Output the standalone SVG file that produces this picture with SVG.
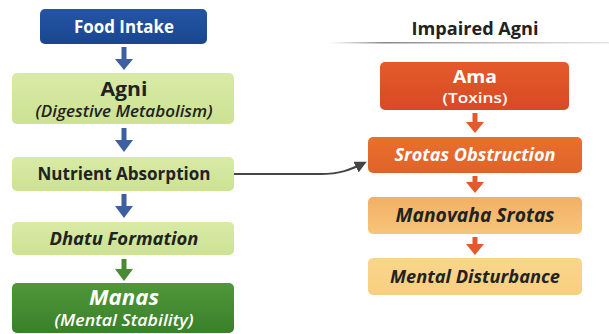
<svg xmlns="http://www.w3.org/2000/svg" width="609" height="334" viewBox="0 0 609 334">
<defs>
<linearGradient id="gBlue" x1="0" y1="0" x2="0" y2="1"><stop offset="0" stop-color="#2455a4"/><stop offset="1" stop-color="#1a4690"/></linearGradient>
<linearGradient id="gLight" x1="0" y1="0" x2="0" y2="1"><stop offset="0" stop-color="#d9eaa6"/><stop offset="1" stop-color="#cde293"/></linearGradient>
<linearGradient id="gDark" x1="0" y1="0" x2="0" y2="1"><stop offset="0" stop-color="#4f9838"/><stop offset="1" stop-color="#3a7f2b"/></linearGradient>
<linearGradient id="gAma" x1="0" y1="0" x2="0" y2="1"><stop offset="0" stop-color="#e35a2b"/><stop offset="1" stop-color="#d84a24"/></linearGradient>
<linearGradient id="gSrot" x1="0" y1="0" x2="0" y2="1"><stop offset="0" stop-color="#e9702c"/><stop offset="1" stop-color="#e0622a"/></linearGradient>
<linearGradient id="gMano" x1="0" y1="0" x2="0" y2="1"><stop offset="0" stop-color="#f2b063"/><stop offset="1" stop-color="#f7c57a"/></linearGradient>
<linearGradient id="gMent" x1="0" y1="0" x2="0" y2="1"><stop offset="0" stop-color="#f9d58b"/><stop offset="1" stop-color="#f8cf80"/></linearGradient>
<linearGradient id="gLine" x1="0" y1="0" x2="1" y2="0"><stop offset="0" stop-color="#999" stop-opacity="0"/><stop offset="0.2" stop-color="#888"/><stop offset="1" stop-color="#aaa" stop-opacity="0.3"/></linearGradient>
<marker id="mGray" markerWidth="12" markerHeight="12" refX="9" refY="6" orient="auto" markerUnits="userSpaceOnUse"><path d="M0,0 L12,6 L0,12 Z" fill="#444"/></marker>
</defs>
<style>
text{font-family:"Open Sans","Noto Sans",sans-serif;text-anchor:middle}
.b{font-weight:bold}
.s{font-weight:600}
.i{font-style:italic}
.w{fill:#fff}
.d{fill:#222}
.con{fill:none;stroke:#444;stroke-width:2}
</style>
<rect width="609" height="334" fill="#ffffff"/>
<g id="connectors">
<g fill="#3e5fa0">
<rect x="121.5" y="47" width="5" height="13"/><path d="M115,59 L133,59 L124,70 Z"/>
<rect x="121.5" y="128" width="5" height="13"/><path d="M115,140 L133,140 L124,152 Z"/>
<rect x="121.5" y="194" width="5" height="13"/><path d="M115,206 L133,206 L124,218 Z"/>
</g>
<g fill="#4a8a34">
<rect x="121.5" y="259" width="5" height="11"/><path d="M115,269 L133,269 L124,281 Z"/>
</g>
<g fill="#e2592b">
<rect x="472.5" y="113" width="5" height="10"/><path d="M466,122 L484,122 L475,133 Z"/>
<rect x="472.5" y="176" width="5" height="7"/><path d="M466,182 L484,182 L475,193 Z"/>
<rect x="472.5" y="237" width="5" height="8"/><path d="M466,244 L484,244 L475,255 Z"/>
</g>
<path class="con" d="M234,174 L320,174 C340,174 350,170 364,163" marker-end="url(#mGray)"/>
</g>
<g id="food-intake">
<rect x="40" y="9" width="167" height="35" rx="5" fill="url(#gBlue)"/>
<text x="124" y="33" class="b w" font-size="17" textLength="100" lengthAdjust="spacingAndGlyphs">Food Intake</text>
</g>
<g id="agni">
<rect x="12" y="73" width="222" height="51" rx="5" fill="url(#gLight)"/>
<text x="124" y="96" class="b d" font-size="19.5" textLength="47" lengthAdjust="spacingAndGlyphs">Agni</text>
<text x="124" y="117" class="s i d" font-size="15.5" textLength="177" lengthAdjust="spacingAndGlyphs">(Digestive Metabolism)</text>
</g>
<g id="nutrient-absorption">
<rect x="12" y="157" width="222" height="34" rx="5" fill="url(#gLight)"/>
<text x="124" y="180" class="b d" font-size="17" textLength="173" lengthAdjust="spacingAndGlyphs">Nutrient Absorption</text>
</g>
<g id="dhatu-formation">
<rect x="12" y="222" width="222" height="33" rx="5" fill="url(#gLight)"/>
<text x="124" y="245" class="b i d" font-size="18" textLength="149" lengthAdjust="spacingAndGlyphs">Dhatu Formation</text>
</g>
<g id="manas">
<rect x="12" y="283" width="222" height="50" rx="5" fill="url(#gDark)"/>
<text x="124" y="305" class="b i w" font-size="20.5" textLength="70" lengthAdjust="spacingAndGlyphs">Manas</text>
<text x="124" y="325.5" class="s i w" font-size="15.5" textLength="139" lengthAdjust="spacingAndGlyphs">(Mental Stability)</text>
</g>
<g id="impaired-agni">
<text x="475" y="35" class="b d" font-size="18" textLength="127" lengthAdjust="spacingAndGlyphs">Impaired Agni</text>
<rect x="328" y="42" width="281" height="1.5" fill="url(#gLine)"/>
</g>
<g id="ama">
<rect x="380" y="62" width="189" height="48" rx="5" fill="url(#gAma)"/>
<text x="475" y="83" class="b w" font-size="17" textLength="44" lengthAdjust="spacingAndGlyphs">Ama</text>
<text x="475" y="103" class="s w" font-size="15" textLength="65" lengthAdjust="spacingAndGlyphs">(Toxins)</text>
</g>
<g id="srotas-obstruction">
<rect x="368" y="137" width="214" height="36" rx="5" fill="url(#gSrot)"/>
<text x="475" y="161" class="b i w" font-size="18" textLength="161" lengthAdjust="spacingAndGlyphs">Srotas Obstruction</text>
</g>
<g id="manovaha-srotas">
<rect x="368" y="197" width="214" height="37" rx="5" fill="url(#gMano)"/>
<text x="475" y="222" class="b i d" font-size="19" textLength="159" lengthAdjust="spacingAndGlyphs">Manovaha Srotas</text>
</g>
<g id="mental-disturbance">
<rect x="368" y="258" width="214" height="37" rx="5" fill="url(#gMent)"/>
<text x="475" y="283" class="b i d" font-size="18.5" textLength="170" lengthAdjust="spacingAndGlyphs">Mental Disturbance</text>
</g>
</svg>
